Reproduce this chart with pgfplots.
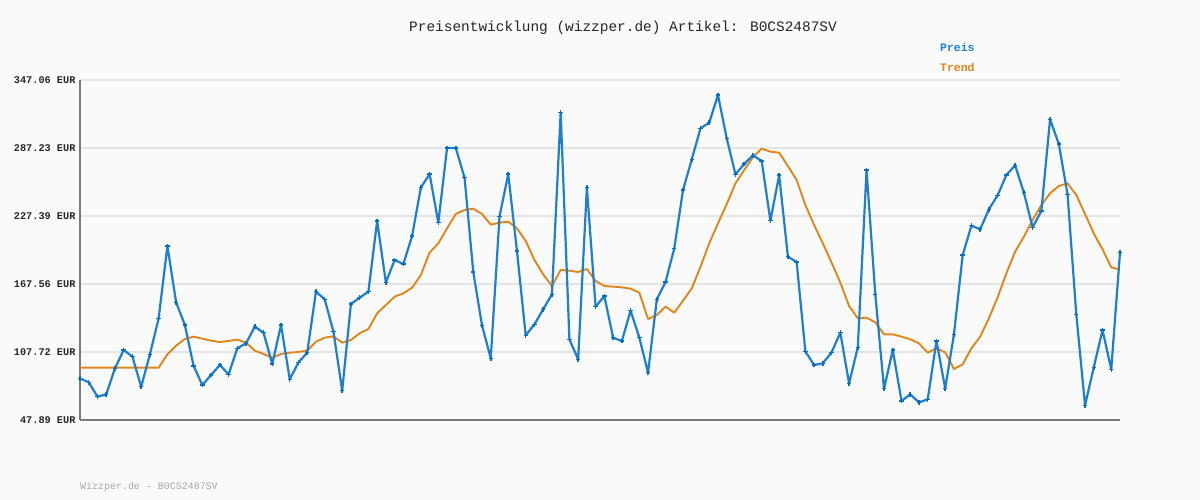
\documentclass[border=0pt]{standalone}
\usepackage{pgfplots}
\pgfplotsset{compat=1.18}
\usepackage{pgfplotstable}
\usepackage{fontspec}
\newfontfamily\mono{Liberation Mono}
\definecolor{bgc}{HTML}{FAFAFA}
\definecolor{preis}{HTML}{1E80CC}
\definecolor{preismark}{HTML}{0B6FC0}
\definecolor{trend}{HTML}{E0861A}
\definecolor{gridc}{HTML}{E4E4E4}
\definecolor{axc}{HTML}{7A7A7A}
\pgfplotstableread{
i preis trend
0 84.55 93.94
1 81.03 93.94
2 68.42 93.94
3 70.47 93.94
4 93.35 93.94
5 109.48 93.94
6 103.62 93.94
7 77.22 93.94
8 105.67 93.94
9 137.35 93.94
10 200.99 105.67
11 151.42 113.30
12 131.48 119.16
13 95.40 121.22
14 78.69 119.46
15 87.49 117.70
16 96.28 116.52
17 88.07 117.40
18 110.95 118.58
19 115.35 115.94
20 130.01 108.90
21 124.73 105.96
22 97.16 102.74
23 131.48 105.96
24 83.67 107.14
25 98.63 107.72
26 107.14 108.90
27 160.81 116.82
28 154.06 120.34
29 125.61 121.51
30 73.70 115.94
31 149.96 118.28
32 155.53 124.15
33 160.81 127.96
34 222.99 141.75
35 169.02 149.08
36 188.67 156.41
37 185.15 159.34
38 209.79 164.33
39 252.32 175.48
40 264.35 195.13
41 221.52 203.34
42 287.22 216.54
43 287.22 229.15
44 261.12 232.67
45 178.12 233.84
46 131.19 229.15
47 102.15 219.76
48 226.80 221.52
49 264.35 222.40
50 196.59 216.54
51 122.39 205.39
52 132.07 188.67
53 145.27 176.06
54 158.46 165.80
55 318.31 179.88
56 118.87 179.29
57 101.27 178.12
58 252.32 180.75
59 147.61 170.20
60 157.00 165.80
61 120.34 165.21
62 117.40 164.62
63 144.09 163.45
64 120.34 159.93
65 89.54 136.76
66 154.06 140.28
67 169.32 147.61
68 198.94 142.33
69 250.27 152.89
70 277.25 163.74
71 304.53 182.81
72 309.51 203.34
73 333.86 220.94
74 295.73 237.95
75 264.05 256.13
76 273.14 267.87
77 280.77 279.01
78 275.78 286.64
79 223.28 284.00
80 263.47 283.12
81 191.61 271.38
82 186.91 259.07
83 108.31 237.07
84 96.28 219.47
85 97.75 203.34
86 107.43 186.33
87 124.73 168.73
88 80.15 148.20
89 111.83 137.35
90 267.87 137.93
91 158.46 133.83
92 75.46 123.27
93 109.48 123.27
94 64.61 121.22
95 70.47 118.87
96 63.43 115.35
97 66.07 107.14
98 117.40 110.95
99 75.75 107.43
100 123.27 92.76
101 193.07 96.87
102 218.88 110.95
103 215.66 121.22
104 233.26 137.35
105 245.57 155.82
106 263.47 176.94
107 271.97 196.01
108 247.92 209.21
109 217.42 223.87
110 231.79 237.07
111 312.45 247.33
112 290.74 253.79
113 246.45 256.13
114 140.87 245.87
115 60.80 229.15
116 94.23 212.14
117 127.08 198.06
118 92.47 182.22
119 195.13 180.46
}\datatable
\begin{document}
\begin{tikzpicture}
\fill[bgc] (-80bp,-80bp) rectangle (1120bp,420bp);
\begin{axis}[
  at={(0,0)}, anchor=south west,
  width=1040bp, height=340bp, scale only axis,
  xmin=0, xmax=119, ymin=47.89, ymax=347.06,
  axis x line*=bottom, axis y line*=left,
  axis line style={axc, line width=2bp, -},
  xtick=\empty,
  ytick={47.89,107.72,167.56,227.39,287.23,347.06},
  yticklabels={47.89 EUR,107.72 EUR,167.56 EUR,227.39 EUR,287.23 EUR,347.06 EUR},
  yticklabel style={font=\mono\bfseries\fontsize{10.3}{12}\selectfont, text=black!85, xshift=-1bp},
  major tick length=0pt,
  ymajorgrids, grid style={gridc, line width=2bp},
  clip=false,
]
\addplot[trend, line width=1.9bp, line join=bevel, no marks] table[x=i, y=trend] {\datatable};
\addplot[preis, line width=2.2bp, line join=bevel, mark=+, mark size=2.2bp, mark options={preismark, line width=1.5bp}] table[x=i, y=preis] {\datatable};
\end{axis}
\node[font=\mono\fontsize{14.5}{16}\selectfont, text=black!85] at (543bp,392bp) {Preisentwicklung (wizzper.de) Artikel: B0CS2487SV};
\node[font=\mono\bfseries\fontsize{11.5}{13}\selectfont, text=preis, anchor=west, inner sep=0pt] at (860bp,373bp) {Preis};
\node[font=\mono\bfseries\fontsize{11.5}{13}\selectfont, text=trend, anchor=west, inner sep=0pt] at (860bp,353bp) {Trend};
\node[font=\mono\fontsize{10}{12}\selectfont, text=black!35, anchor=west, inner sep=0pt] at (0bp,-67bp) {Wizzper.de - B0CS2487SV};
\end{tikzpicture}
\end{document}
